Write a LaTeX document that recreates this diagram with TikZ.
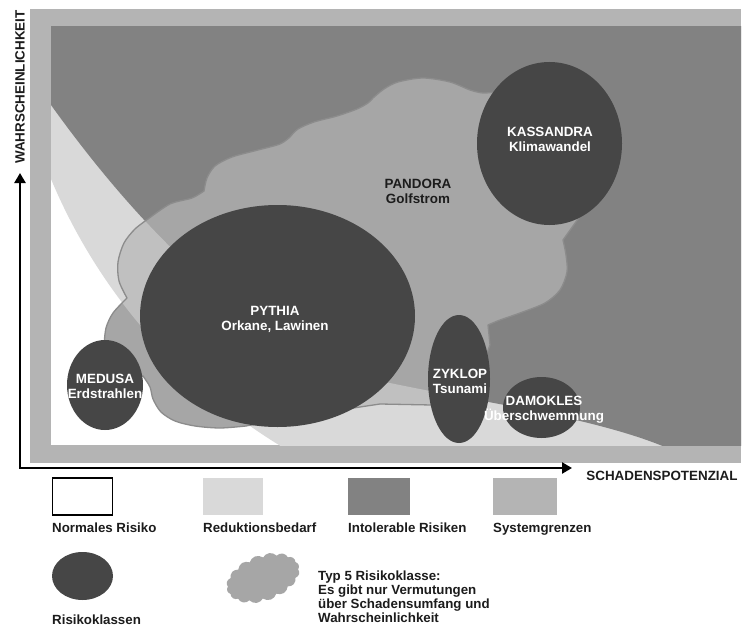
\documentclass[tikz,border=0pt]{standalone}
\usepackage{fontspec}
\setmainfont{Liberation Sans}
\usetikzlibrary{arrows.meta,shapes.symbols}
\definecolor{sysgray}{HTML}{B4B4B4}
\definecolor{lightred}{HTML}{D9D9D9}
\definecolor{intol}{HTML}{828282}
\definecolor{classgray}{HTML}{464646}
\definecolor{cloudgray}{HTML}{A6A6A6}
\definecolor{cloudedge}{HTML}{8C8C8C}
\definecolor{txt}{HTML}{1C1C1C}
\def\pandorapath{(127,298)
 -- plot[smooth] coordinates {(127,298) (119,281) (118,262) (124,243) (135,229) (148,219)}
 -- plot[smooth] coordinates {(148,219) (170,204) (192,198) (204,191)}
 -- plot[smooth] coordinates {(204,191) (207,178) (215,166) (232,157) (258,150) (280,144) (290,137)}
 -- plot[smooth] coordinates {(290,137) (298,129) (314,122) (337,116) (357,109) (368,103) (373,98)}
 -- plot[smooth] coordinates {(373,98) (384,89) (398,82) (423,78) (450,82) (470,90) (483,93) (495,92)}
 -- (560,110) -- (605,160) -- (583,212) -- (563,240)
 -- plot[smooth] coordinates {(563,240) (566,255) (567,272) (560,290) (545,303) (520,313) (500,320) (488,325)}
 -- (490,345) -- (470,400) -- (432,405) -- (380,404) -- (300,416) -- (246,426)
 -- plot[smooth] coordinates {(246,426) (220,428) (195,426) (175,421) (161,412) (153,399) (150,387) (143,376)}
 -- (125,376) -- (104,346)
 -- plot[smooth] coordinates {(104,346) (106,328) (113,313) (127,298)}
 -- cycle}
\def\intolpath{(40,20) -- (40,105) -- (51,105) .. controls (130,215) and (250,350) .. (390,383)
 .. controls (480,402) and (600,418) .. (672,450) -- (750,450) -- (750,20) -- cycle}
\begin{document}
\begin{tikzpicture}[x=1pt,y=-1pt,
  lbl/.style={font=\fontsize{13.4}{15}\selectfont\bfseries, align=center, inner sep=0pt},
  wlbl/.style={lbl, text=white},
  dlbl/.style={lbl, text=txt},
  leg/.style={font=\fontsize{13.3}{14}\selectfont\bfseries, text=txt, inner sep=0pt, align=left},
  legone/.style={leg, text height=9.4pt, text depth=2.7pt, anchor=west},
  legbox/.style={minimum height=37pt, inner sep=0pt, outer sep=0pt},
  klasse/.style={fill=classgray},
  axis/.style={line width=2.4pt, black, {Triangle[length=10pt,width=11pt]}-{Triangle[length=10pt,width=11pt]}}]
\useasboundingbox (0,0) rectangle (750,626);
\fill[white] (0,0) rectangle (750,626);
% system boundary frame
\fill[sysgray] (30,9) rectangle (741,463);
\begin{scope}
  \clip (51,27) rectangle (741,445);
  \fill[white] (51,27) rectangle (741,445);
  \fill[lightred] (577,-41) circle[radius=570pt];
  \fill[intol] \intolpath;
  % Pandora cloud
  \fill[cloudgray] \pandorapath;
  \begin{scope}
    \clip \pandorapath;
    \fill[white, opacity=.3, even odd rule] (577,-41) circle[radius=570pt] \intolpath;
  \end{scope}
  \draw[cloudedge, line width=1.3pt, line join=round] \pandorapath;
  % risk classes
  \fill[klasse] (549.5,143.5) ellipse[x radius=72.5pt, y radius=81.5pt];
  \fill[klasse] (277.5,316) ellipse[x radius=137.5pt, y radius=111pt];
  \fill[klasse] (105,385) ellipse[x radius=38pt, y radius=45pt];
  \fill[klasse] (459,379) ellipse[x radius=31pt, y radius=64pt];
  \fill[klasse] (541.5,407.5) ellipse[x radius=38.5pt, y radius=30.5pt];
\end{scope}
\node[wlbl] (kassandra) at (550,139.5) {KASSANDRA\\Klimawandel};
\node[dlbl] (pandora) at (418,191.5) {PANDORA\\Golfstrom};
\node[wlbl] (pythia) at (275,319.5) {PYTHIA\\Orkane, Lawinen};
\node[wlbl] (medusa) at (105,386) {MEDUSA\\Erdstrahlen};
\node[wlbl] (zyklop) at (460,381.5) {ZYKLOP\\Tsunami};
\node[wlbl] (damokles) at (544,410) {DAMOKLES\\Überschwemmung};
% axes
\coordinate (ytip) at (20,173);
\coordinate (origin) at (20,468);
\coordinate (xtip) at (572,468);
\draw[axis] (ytip) -- (origin) -- (xtip);
\node[dlbl, rotate=90] (ylabel) at (20,87) {WAHRSCHEINLICHKEIT};
\node[dlbl] (xlabel) at (662,476) {SCHADENSPOTENZIAL};
% legend
\node[legbox, minimum width=60pt, fill=white, draw=black, line width=1.6pt] (bnormal) at (82.5,496.5) {};
\node[legbox, minimum width=60pt, fill=lightred] (breduk) at (233,496.5) {};
\node[legbox, minimum width=62pt, fill=intol] (bintol) at (379,496.5) {};
\node[legbox, minimum width=64pt, fill=sysgray] (bsys) at (525,496.5) {};
\node[legone] (tnormal) at (52,529.3) {Normales Risiko};
\node[legone] (treduk) at (203,529.3) {Reduktionsbedarf};
\node[legone] (tintol) at (348,529.3) {Intolerable Risiken};
\node[legone] (tsys) at (493,529.3) {Systemgrenzen};
\fill[klasse] (82.5,576) ellipse[x radius=30.5pt, y radius=24pt];
\node[legone] (tklassen) at (52,621) {Risikoklassen};
\node[cloud, cloud puffs=16, cloud puff arc=110, aspect=1.8, fill=cloudgray, minimum width=76pt, minimum height=46pt, inner sep=0pt, rotate=20] (lcloud) at (263,578) {};
\node[leg, anchor=north west] (ttyp5) at (318,570.5) {Typ 5 Risikoklasse:\\Es gibt nur Vermutungen\\über Schadensumfang und\\Wahrscheinlichkeit};
\end{tikzpicture}
\end{document}
